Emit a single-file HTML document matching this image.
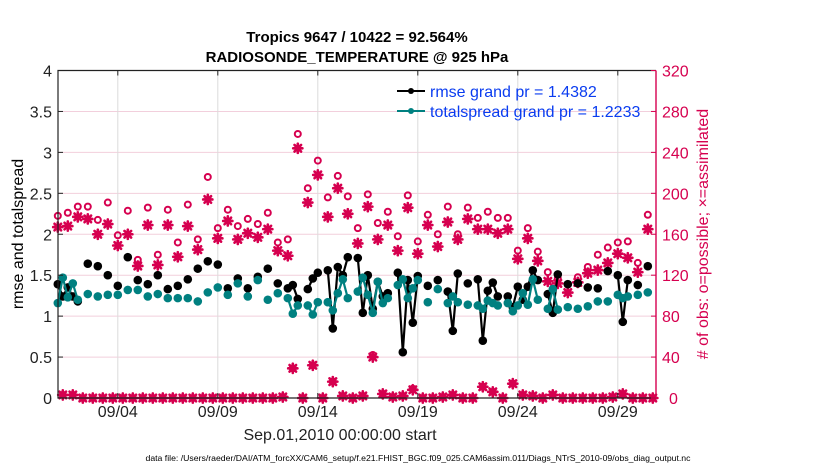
<!DOCTYPE html>
<html><head><meta charset="utf-8"><style>
body{margin:0;background:#fff;}
svg{display:block;font-family:"Liberation Sans",sans-serif;}
</style></head><body>
<svg id="chart" width="830" height="470" viewBox="0 0 830 470" xmlns="http://www.w3.org/2000/svg">
<rect width="830" height="470" fill="#fff"/>
<text x="357" y="42" text-anchor="middle" font-size="15" font-weight="bold" fill="#000">Tropics 9647 / 10422 = 92.564%</text>
<text x="357" y="62" text-anchor="middle" font-size="15" font-weight="bold" fill="#000">RADIOSONDE_TEMPERATURE @ 925 hPa</text>
<g id="grid"></g>
<g id="marks"></g>
<g id="axes"></g>
<g>
<line x1="397" y1="91" x2="425" y2="91" stroke="#000" stroke-width="2"/><circle cx="411" cy="91" r="3" fill="#000"/>
<text x="430" y="97" font-size="16" fill="#0a3cf0">rmse grand pr = 1.4382</text>
<line x1="397" y1="111" x2="425" y2="111" stroke="#008080" stroke-width="2"/><circle cx="411" cy="111" r="3" fill="#008080"/>
<text x="430" y="117" font-size="16" fill="#0a3cf0">totalspread grand pr = 1.2233</text>
</g>
<text transform="translate(23,234) rotate(-90)" text-anchor="middle" font-size="16" fill="#000">rmse and totalspread</text>
<text transform="translate(708,234) rotate(-90)" text-anchor="middle" font-size="16" fill="#d6004f"># of obs: o=possible; ×=assimilated</text>
<text x="340" y="440" text-anchor="middle" font-size="16" fill="#222">Sep.01,2010 00:00:00 start</text>
<text x="418" y="461" text-anchor="middle" font-size="8.7" fill="#000">data file: /Users/raeder/DAI/ATM_forcXX/CAM6_setup/f.e21.FHIST_BGC.f09_025.CAM6assim.011/Diags_NTrS_2010-09/obs_diag_output.nc</text>
</svg>
<script>
const xTickDays = [3, 8, 13, 18, 23, 28];
const xTickLabels = ["09/04", "09/09", "09/14", "09/19", "09/24", "09/29"];
const leftTicks = [0, 0.5, 1, 1.5, 2, 2.5, 3, 3.5, 4];
const leftTickLabels = ["0", "0.5", "1", "1.5", "2", "2.5", "3", "3.5", "4"];
const rightTicks = [0, 40, 80, 120, 160, 200, 240, 280, 320];
const rmse = [
1.39,1.24,1.35,1.24,1.18,null,1.64,null,1.61,null,
1.50,null,1.37,null,1.72,null,1.44,null,1.39,null,
1.50,null,1.33,null,1.37,null,1.45,null,1.58,null,
1.67,null,1.63,null,1.34,null,1.46,null,1.34,null,
1.48,null,1.58,null,1.40,null,1.34,1.38,1.21,null,
1.33,1.46,1.53,null,1.56,0.85,1.60,1.50,1.72,null,
1.71,1.04,1.50,1.09,1.42,1.24,1.28,null,1.53,0.56,
1.44,0.92,1.49,null,1.37,null,1.44,null,1.30,0.82,
1.52,null,1.40,null,1.45,0.70,1.31,1.41,1.24,null,
1.24,1.11,1.36,1.20,1.36,1.56,1.44,null,1.27,1.04,
1.51,null,1.39,null,1.40,null,1.35,null,1.34,null,
1.55,null,1.50,0.93,1.44,null,1.38,null,1.61,null];
const spread = [
1.16,1.47,1.23,1.40,1.20,null,1.27,null,1.24,null,
1.26,null,1.26,null,1.32,null,1.32,null,1.24,null,
1.27,null,1.22,null,1.22,null,1.22,null,1.18,null,
1.29,null,1.35,null,1.26,null,1.40,null,1.24,null,
1.44,null,1.20,null,1.28,null,1.22,1.03,1.13,null,
1.13,1.02,1.17,null,1.17,1.07,1.28,1.45,1.22,null,
1.30,1.47,1.26,1.04,1.42,1.16,1.22,null,1.38,1.45,
1.22,1.34,1.44,null,1.17,null,1.33,null,1.16,1.24,
1.17,null,1.14,null,1.13,1.09,1.19,1.16,1.13,null,
1.16,1.06,1.13,1.28,1.14,1.45,1.20,null,1.09,1.33,
1.08,null,1.11,null,1.09,null,1.12,null,1.18,null,
1.18,null,1.26,1.22,1.24,null,1.26,null,1.29,null];
const possible = [
178,3,181,3,187,0,187,0,174,0,
191,0,159,0,183,0,135,0,186,0,
140,0,184,0,152,0,189,0,155,0,
216,0,166,0,184,0,168,0,175,0,
170,0,181,0,152,1,155,29,258,0,
205,32,232,0,196,16,217,2,197,0,
166,2,199,42,171,4,182,1,158,2,
198,9,153,0,179,0,160,1,187,3,
160,0,186,0,176,11,182,6,176,0,
176,14,144,3,166,2,143,0,123,3,
117,0,111,0,118,0,128,0,140,0,
147,1,152,4,153,0,132,0,179,0];
const assimilated = [
167,3,168,3,177,0,175,0,160,0,
170,0,149,0,160,0,129,0,169,0,
130,0,169,0,138,0,168,0,145,0,
194,0,156,0,173,0,155,0,161,0,
157,0,165,0,144,1,139,29,244,0,
191,32,218,0,177,16,205,2,180,0,
151,2,187,40,155,4,169,1,144,2,
186,8,141,0,169,0,148,1,172,3,
155,0,175,0,165,11,165,6,161,0,
165,14,136,3,156,2,134,0,114,3,
112,0,103,0,113,0,122,0,125,0,
132,1,141,4,137,0,123,0,165,0];

const NS = "http://www.w3.org/2000/svg";
const L = 58, R = 656, T = 70.5, B = 398;
const CRIM = "#d6004f", TEAL = "#008080";
function xDay(d){ return 57.8 + 20 * d; }
function xIdx(k){ return xDay(k * 0.25); }
function yL(v){ return B - (v / 4) * (B - T); }
function yR(c){ return B - (c / 320) * (B - T); }
function mk(tag, attrs, parent){
  const e = document.createElementNS(NS, tag);
  for (const a in attrs) e.setAttribute(a, attrs[a]);
  parent.appendChild(e);
  return e;
}
const grid = document.getElementById("grid");
const marks = document.getElementById("marks");
const axes = document.getElementById("axes");

rightTicks.forEach(function(c){
  const g = mk("line", {x1:L, x2:R, y1:yR(c), y2:yR(c), stroke:"#f2cfdc", "stroke-width":1}, grid);
  
  
});
xTickDays.forEach(function(d){
  const g = mk("line", {x1:xDay(d), x2:xDay(d), y1:T, y2:B, stroke:"#dcdcdc", "stroke-width":1}, grid);
  
  
});

function drawSeries(vals, color, name){
  let d = "", pen = false;
  vals.forEach(function(v, k){
    if (v === null) { pen = false; return; }
    d += (pen ? "L" : "M") + xIdx(k).toFixed(1) + "," + yL(v).toFixed(1);
    pen = true;
  });
  const p = mk("path", {d:d, fill:"none", stroke:color, "stroke-width":2.2, "stroke-linejoin":"round"}, marks);
  
  
  vals.forEach(function(v, k){
    if (v === null) return;
    const c = mk("circle", {cx:xIdx(k), cy:yL(v), r:4.3, fill:color}, marks);
    
    
  });
}
function star(x, y){
  const r = 4.6, r2 = 3.3;
  const d = "M" + (x-r) + "," + y + "L" + (x+r) + "," + y +
            "M" + x + "," + (y-r) + "L" + x + "," + (y+r) +
            "M" + (x-r2) + "," + (y-r2) + "L" + (x+r2) + "," + (y+r2) +
            "M" + (x-r2) + "," + (y+r2) + "L" + (x+r2) + "," + (y-r2);
  return d;
}
possible.forEach(function(c, k){
  const e = mk("circle", {cx:xIdx(k), cy:yR(c), r:3, fill:"none", stroke:CRIM, "stroke-width":2}, marks);
  
  
});
assimilated.forEach(function(c, k){
  const e = mk("path", {d:star(xIdx(k), yR(c)), stroke:CRIM, "stroke-width":2.6, "stroke-linecap":"round", fill:"none"}, marks);
  
  
});
drawSeries(rmse, "#000", "rmse");
drawSeries(spread, TEAL, "totalspread");

const ax1 = mk("path", {d:"M"+R+","+T+"L"+L+","+T+"L"+L+","+B+"L"+R+","+B, fill:"none", stroke:"#222", "stroke-width":1.2}, axes);


const ax2 = mk("line", {x1:R, x2:R, y1:T, y2:B, stroke:CRIM, "stroke-width":1.4}, axes);



leftTicks.forEach(function(v, i){
  const t = mk("line", {x1:L, x2:L+5, y1:yL(v), y2:yL(v), stroke:"#222", "stroke-width":1}, axes);
  
  
  const tx = mk("text", {x:L-6, y:yL(v)+6, "text-anchor":"end", "font-size":16, fill:"#222"}, axes);
  tx.textContent = leftTickLabels[i];
  
  
});
rightTicks.forEach(function(c){
  const t = mk("line", {x1:R-5, x2:R, y1:yR(c), y2:yR(c), stroke:CRIM, "stroke-width":1}, axes);
  
  
  const tx = mk("text", {x:c === 0 ? 669 : 662, y:yR(c)+6, "text-anchor":"start", "font-size":16, fill:CRIM}, axes);
  tx.textContent = String(c);
  
  
});
xTickDays.forEach(function(d, i){
  const x = xDay(d);
  const t1 = mk("line", {x1:x, x2:x, y1:B, y2:B-5, stroke:"#222", "stroke-width":1}, axes);
  
  
  const t2 = mk("line", {x1:x, x2:x, y1:T, y2:T+5, stroke:"#222", "stroke-width":1}, axes);
  
  
  const tx = mk("text", {x:x, y:417, "text-anchor":"middle", "font-size":16, fill:"#222"}, axes);
  tx.textContent = xTickLabels[i];
  
  
});
</script>
</body></html>
